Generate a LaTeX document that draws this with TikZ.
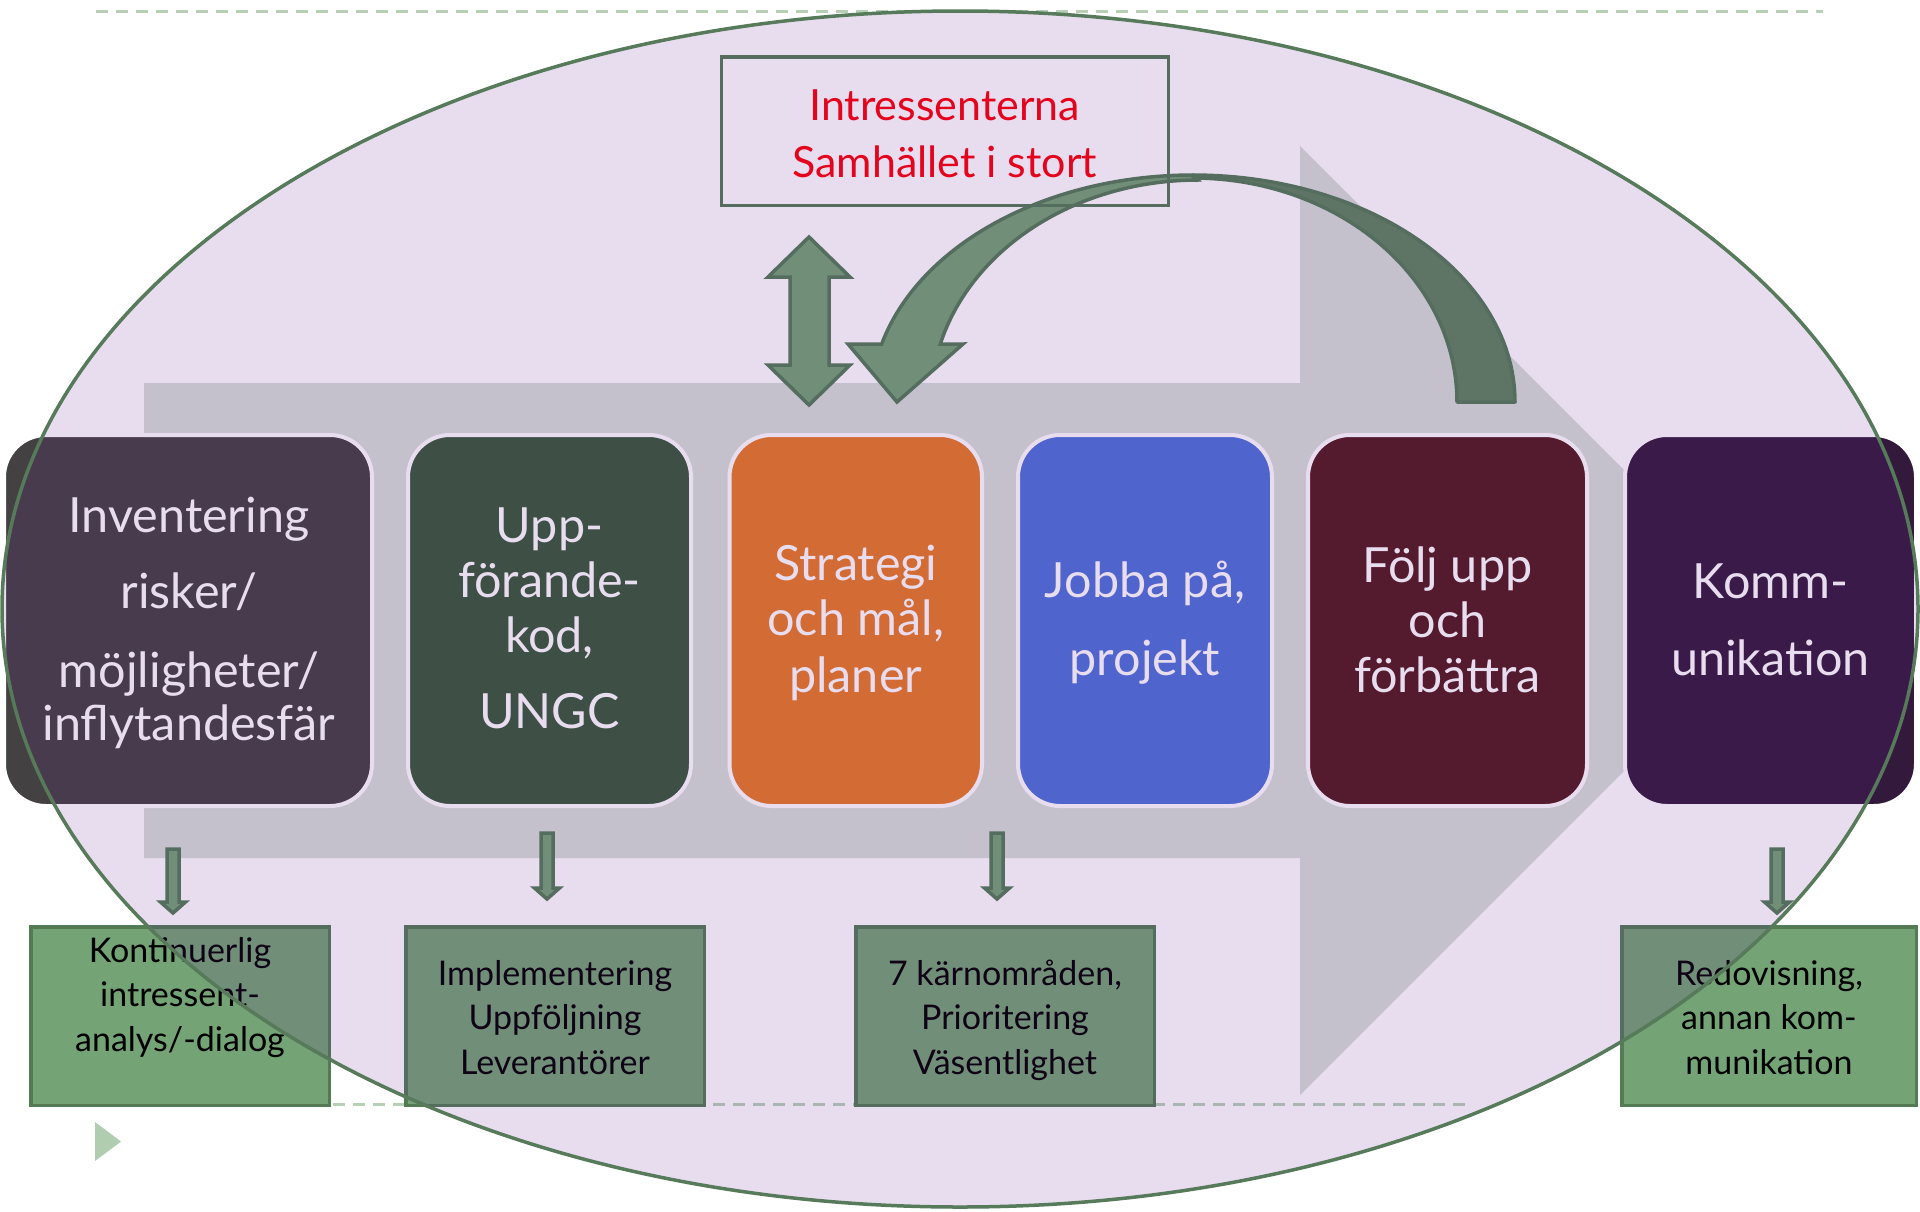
\documentclass[tikz,border=0pt]{standalone}
\usepackage{fontspec}
\setmainfont{Lato}
\definecolor{ovl}{RGB}{102,28,148}
\definecolor{grayarr}{RGB}{213,223,214}
\definecolor{rA}{RGB}{67,65,65}
\definecolor{rB}{RGB}{55,88,57}
\definecolor{rC}{RGB}{231,121,37}
\definecolor{rD}{RGB}{76,113,214}
\definecolor{rE}{RGB}{81,27,30}
\definecolor{rF}{RGB}{51,26,60}
\definecolor{gfill}{RGB}{116,163,117}
\definecolor{gborder}{RGB}{83,124,85}
\definecolor{gdark}{RGB}{93,133,93}
\definecolor{ellline}{RGB}{86,122,90}
\definecolor{dashc}{RGB}{181,208,181}
\definecolor{tric}{RGB}{176,205,176}
\definecolor{redtxt}{RGB}{252,0,10}
\newcommand{\blkdown}[3]{%
  \filldraw[greenshape] (#1-6,#2) -- (#1+6,#2) -- (#1+6,#3-11) -- (#1+12.5,#3-11)
    -- (#1,#3) -- (#1-12.5,#3-11) -- (#1-6,#3-11) -- cycle;}
\begin{document}
\begin{tikzpicture}[x=1pt,y=-1pt,
  rbox/.style={draw=white, line width=4pt, rounded corners=42pt, minimum height=371pt, inner sep=0pt},
  rtxt/.style={anchor=base, text=white, font=\fontsize{48.5}{55}\selectfont, inner sep=0pt},
  gbox/.style={draw=gborder, fill=gfill, line width=3.5pt, inner sep=0pt, minimum height=178.5pt},
  gtxt/.style={anchor=base, text=black, font=\fontsize{34}{44.5}\selectfont, inner sep=0pt},
  greenshape/.style={draw=gborder, fill=gfill, line width=3.5pt, line join=miter},
  darkshape/.style={draw=gborder, fill=gdark, line width=3.5pt, line join=round},
  dashline/.style={draw=dashc, line width=3pt, dash pattern=on 12pt off 8pt},
]
\useasboundingbox (0,0) rectangle (1920,1211);
\fill[white] (0,0) rectangle (1920,1211);

% slide decoration
\draw[dashline] (96,11) -- (1823,11);
\draw[dashline] (333,1104) -- (1468,1104);
\fill[tric] (95,1122) -- (121,1141.5) -- (95,1161) -- cycle;

% big process arrow
\fill[grayarr] (144,383) -- (1300,383) -- (1300,146) -- (1774.5,620.5)
  -- (1300,1095) -- (1300,858) -- (144,858) -- cycle;

% process boxes
\node[rbox, fill=rA, minimum width=368pt] (r1) at (188,620.5) {};
\node[rbox, fill=rB, minimum width=283pt] (r2) at (549.5,620.5) {};
\node[rbox, fill=rC, minimum width=252.5pt] (r3) at (855.75,620.5) {};
\node[rbox, fill=rD, minimum width=254pt] (r4) at (1145,620.5) {};
\node[rbox, fill=rE, minimum width=279pt] (r5) at (1447.5,620.5) {};
\node[rbox, fill=rF, minimum width=291pt] (r6) at (1770.5,620.5) {};

\node[rtxt] (t1) at (189,532) {\parbox[t]{400pt}{\centering Inventering\\[21pt]risker/\\[24pt]möjligheter/\\[-2pt]inflytandesfär}};
\node[rtxt] (t2) at (549.5,542) {\parbox[t]{400pt}{\centering Upp-\\förande-\\kod,\\[21pt]UNGC}};
\node[rtxt] (t3) at (855.75,580) {\parbox[t]{400pt}{\centering Strategi\\och mål,\\[2pt]planer}};
\node[rtxt] (t4) at (1145,597) {\parbox[t]{400pt}{\centering Jobba på,\\[23pt]projekt}};
\node[rtxt] (t5) at (1447.5,582) {\parbox[t]{400pt}{\centering Följ upp\\och\\förbättra}};
\node[rtxt] (t6) at (1770.5,598) {\parbox[t]{400pt}{\centering Komm-\\[22pt]unikation}};

% double arrow between stakeholders and strategy
\filldraw[greenshape] (809,237) -- (850,277) -- (829,277) -- (829,365) -- (850,365)
  -- (809,405) -- (768,365) -- (790,365) -- (790,277) -- (768,277) -- cycle;

% curved arrow from follow-up back to strategy
\filldraw[greenshape] plot[domain=194.8:270, samples=60] ({1193+322*cos(\x)},{402+227*sin(\x)})
  -- plot[domain=270:195.1, samples=60] ({1198+267*cos(\x)},{402+222*sin(\x)})
  -- (963,344) -- (897,402) -- (848,344) -- cycle;
\filldraw[darkshape] plot[domain=0:-90, samples=60] ({1193+322*cos(\x)},{402+227*sin(\x)})
  -- plot[domain=-90:0, samples=60] ({1193+264*cos(\x)},{402+224*sin(\x)}) -- cycle;

% stakeholders box
\node[draw=gborder, line width=3.5pt, minimum width=447pt, minimum height=148.5pt, inner sep=0pt] (st) at (944.75,131) {};
\node[anchor=base, text=redtxt, font=\fontsize{43}{57}\selectfont, inner sep=0pt] (stt) at (944.75,120)
  {\parbox[t]{440pt}{\centering Intressenterna\\Samhället i stort}};

% small down arrows
\coordinate (a1) at (173,849); \coordinate (a2) at (547,833);
\coordinate (a3) at (997,833); \coordinate (a4) at (1777,849);
\blkdown{173}{849}{913}
\blkdown{547}{833}{899}
\blkdown{997}{833}{899}
\blkdown{1777}{849}{913}

% result boxes
\node[gbox, minimum width=298.5pt] (b1) at (180,1016) {};
\node[gbox, minimum width=298.5pt] (b2) at (555,1016) {};
\node[gbox, minimum width=298.5pt] (b3) at (1005,1016) {};
\node[gbox, minimum width=294.5pt] (b4) at (1769,1016) {};
\node[gtxt] (bt1) at (180,962) {\parbox[t]{400pt}{\centering Kontinuerlig\\intressent-\\analys/-dialog}};
\node[gtxt] (bt2) at (555,985) {\parbox[t]{400pt}{\centering Implementering\\Uppföljning\\Leverantörer}};
\node[gtxt] (bt3) at (1005,985) {\parbox[t]{400pt}{\centering 7 kärnområden,\\Prioritering\\Väsentlighet}};
\node[gtxt] (bt4) at (1769,985) {\parbox[t]{400pt}{\centering Redovisning,\\annan kom-\\munikation}};

% translucent ellipse over everything
\fill[ovl, fill opacity=0.15] (960,609) ellipse [x radius=958pt, y radius=598pt];
\draw[ellline, line width=3.5pt] (960,609) ellipse [x radius=958pt, y radius=598pt];
\end{tikzpicture}
\end{document}
